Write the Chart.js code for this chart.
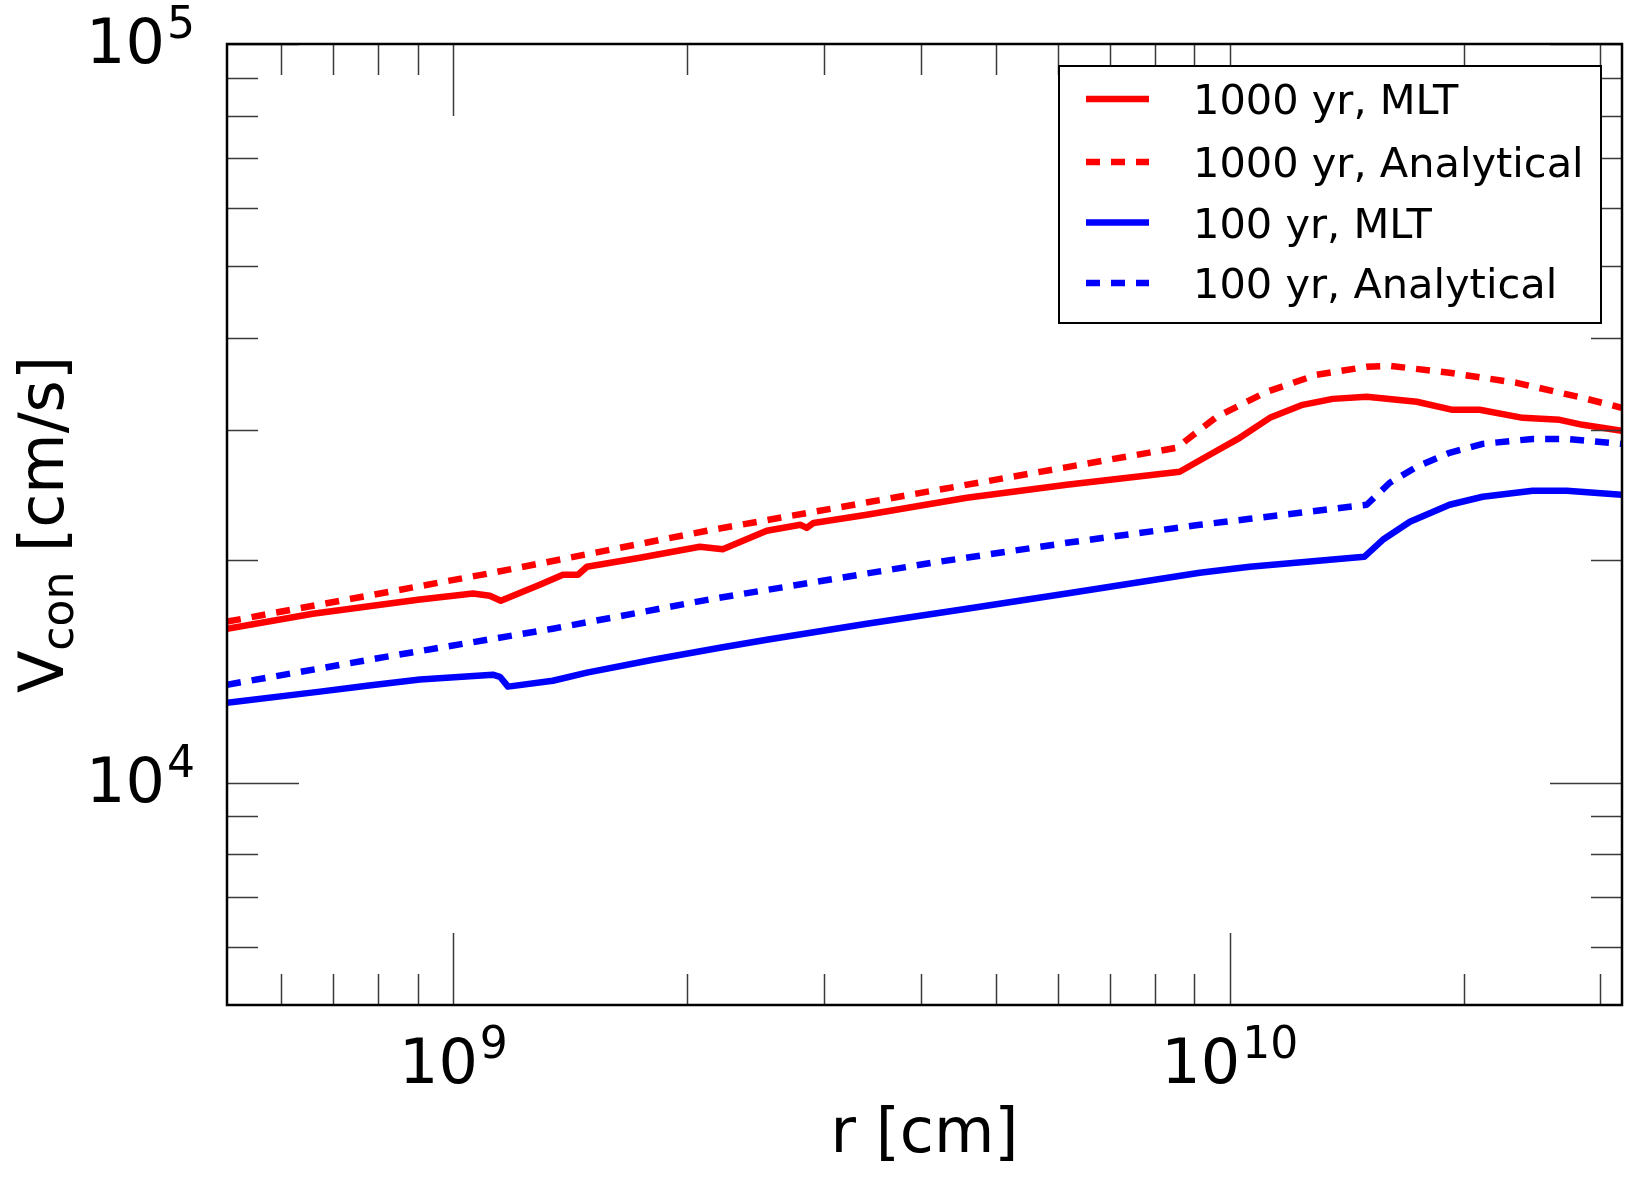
<!DOCTYPE html>
<html>
<head>
<meta charset="utf-8">
<title>Convective velocity profiles</title>
<script src="https://cdn.jsdelivr.net/npm/chart.js@4.4.1/dist/chart.umd.min.js"></script>
<style>
  html, body { margin: 0; padding: 0; background: #fff; }
  canvas { display: block; }
</style>
</head>
<body>
<canvas id="vconChart" width="1638" height="1183"></canvas>
<script>
// ------------------------------------
// DATA
// ------------------------------------
const seriesLabels = ['1000 yr, MLT', '1000 yr, Analytical', '100 yr, MLT', '100 yr, Analytical'];

// 1000 yr, MLT
const r1000Mlt = [5.11e8, 6.59e8, 9.00e8, 1.060e9, 1.114e9, 1.151e9, 1.292e9, 1.384e9, 1.447e9, 1.486e9,
  1.739e9, 2.077e9, 2.223e9, 2.533e9, 2.80e9, 2.852e9, 2.91e9, 3.408e9, 4.585e9, 6.166e9, 8.619e9, 9.42e9, 1.030e10,
  1.126e10, 1.241e10, 1.357e10, 1.501e10, 1.741e10, 1.936e10, 2.098e10, 2.384e10, 2.660e10, 2.847e10, 3.196e10];
const v1000Mlt = [16160, 16930, 17690, 18030, 17910, 17630, 18530, 19120, 19120, 19600,
  20160, 20860, 20700, 21930, 22340, 22120, 22470, 23050, 24300, 25310, 26360, 27790, 29300,
  31180, 32470, 33080, 33290, 32780, 31970, 31970, 31180, 30990, 30510, 29950];

// 1000 yr, Analytical
const r1000Ana = [5.11e8, 1.124e9, 2.121e9, 4.143e9, 8.543e9, 9.618e9, 1.116e10, 1.294e10, 1.501e10, 1.607e10,
  1.919e10, 2.341e10, 2.847e10, 3.196e10];
const v1000Ana = [16520, 19240, 21930, 24840, 28400, 31280, 33820, 35660, 36560, 36670,
  35880, 34780, 33190, 32170];

// 100 yr, MLT
const r100Mlt = [5.11e8, 6.732e8, 7.739e8, 9.055e8, 1.124e9, 1.148e9, 1.176e9, 1.343e9, 1.486e9, 1.807e9,
  2.204e9, 2.533e9, 3.408e9, 4.585e9, 6.166e9, 9.148e9, 1.061e10, 1.49e10, 1.574e10, 1.706e10,
  1.919e10, 2.117e10, 2.455e10, 2.716e10, 3.196e10];
const v100Mlt = [12830, 13280, 13530, 13790, 14000, 13910, 13490, 13740, 14090, 14670,
  15230, 15610, 16410, 17200, 18030, 19240, 19600, 20220, 21320, 22550,
  23780, 24380, 24840, 24840, 24530];

// 100 yr, Analytical
const r100Ana = [5.11e8, 8.211e8, 1.343e9, 2.159e9, 4.143e9, 6.166e9, 9.148e9, 1.061e10, 1.501e10, 1.607e10,
  1.741e10, 1.919e10, 2.117e10, 2.455e10, 2.716e10, 3.196e10];
const v100Ana = [13570, 14810, 16160, 17740, 19850, 21120, 22340, 22760, 23780, 25470,
  26770, 27960, 28750, 29200, 29200, 28750];

// axis ranges and ticks
const xRange = [5.11e8, 3.2e10];
const yRange = [5000, 1e5];
const xMajorTicks = [1e9, 1e10];
const xMinorTicks = [6e8, 7e8, 8e8, 9e8, 2e9, 3e9, 4e9, 5e9, 6e9, 7e9, 8e9, 9e9, 2e10, 3e10];
const yMajorTicks = [1e4, 1e5];
const yMinorTicks = [6e3, 7e3, 8e3, 9e3, 2e4, 3e4, 4e4, 5e4, 6e4, 7e4, 8e4, 9e4];
const xTickLabels = ['9', '10'];
const yTickLabels = ['4', '5'];

const FONT = '"DejaVu Sans", sans-serif';
const RED = '#ff0000';
const BLUE = '#0000ff';
const DASH = [14, 11];
const LINE_W = 6.5;

function toPoints(rs, vs) {
  return rs.map((r, i) => ({ x: r, y: vs[i] }));
}

// draws "10" with a raised exponent; align = 'center' | 'right'
function drawPower(ctx, exp, x, y, align) {
  ctx.font = '62px ' + FONT;
  const wBase = ctx.measureText('10').width;
  ctx.font = '44px ' + FONT;
  const wExp = ctx.measureText(exp).width;
  const total = wBase + wExp + 2;
  const startX = align === 'right' ? x - total : x - total / 2;
  ctx.textAlign = 'left';
  ctx.textBaseline = 'alphabetic';
  ctx.font = '62px ' + FONT;
  ctx.fillText('10', startX, y);
  ctx.font = '44px ' + FONT;
  ctx.fillText(exp, startX + wBase + 2, y - 25);
}

// ------------------------------------
// PLUGIN: FRAME, INWARD TICKS, LABELS, LEGEND
// ------------------------------------
const decorPlugin = {
  id: 'decor',
  afterDraw(chart) {
    const ctx = chart.ctx;
    const { left, right, top, bottom } = chart.chartArea;
    const xs = chart.scales.x;
    const ys = chart.scales.y;
    ctx.save();

    // ticks
    ctx.strokeStyle = '#3a3a3a';
    ctx.lineWidth = 1.5;
    const tick = (x1, y1, x2, y2) => {
      ctx.beginPath();
      ctx.moveTo(x1, y1);
      ctx.lineTo(x2, y2);
      ctx.stroke();
    };
    xMajorTicks.concat(xMinorTicks).forEach(v => {
      const len = xMajorTicks.includes(v) ? 72 : 31;
      const px = Math.round(xs.getPixelForValue(v)) + 0.5;
      tick(px, bottom, px, bottom - len);
      tick(px, top, px, top + len);
    });
    yMajorTicks.concat(yMinorTicks).forEach(v => {
      const len = yMajorTicks.includes(v) ? 72 : 31;
      const py = Math.round(ys.getPixelForValue(v)) + 0.5;
      tick(left, py, left + len, py);
      tick(right, py, right - len, py);
    });

    // frame
    ctx.strokeStyle = '#000';
    ctx.lineWidth = 2.5;
    ctx.strokeRect(left, top, right - left, bottom - top);

    // tick labels
    ctx.fillStyle = '#000';
    xMajorTicks.forEach((v, i) => {
      drawPower(ctx, xTickLabels[i], xs.getPixelForValue(v), bottom + 78, 'center');
    });
    yMajorTicks.forEach((v, i) => {
      drawPower(ctx, yTickLabels[i], left - 32, ys.getPixelForValue(v) + 19, 'right');
    });

    // x axis title
    ctx.font = '62px ' + FONT;
    ctx.textAlign = 'center';
    ctx.textBaseline = 'alphabetic';
    ctx.fillText('r [cm]', (left + right) / 2, 1152);

    // y axis title with subscript
    ctx.save();
    ctx.translate(63, (top + bottom) / 2);
    ctx.rotate(-Math.PI / 2);
    ctx.textAlign = 'left';
    ctx.font = '62px ' + FONT;
    const wV = ctx.measureText('V').width;
    const wRest = ctx.measureText(' [cm/s]').width;
    ctx.font = '44px ' + FONT;
    const wSub = ctx.measureText('con').width;
    let cx = -(wV + wSub + wRest) / 2;
    ctx.font = '62px ' + FONT;
    ctx.fillText('V', cx, 0);
    cx += wV;
    ctx.font = '44px ' + FONT;
    ctx.fillText('con', cx, 10);
    cx += wSub;
    ctx.font = '62px ' + FONT;
    ctx.fillText(' [cm/s]', cx, 0);
    ctx.restore();

    // legend
    const box = { x: 1059, y: 66, w: 542, h: 257 };
    ctx.fillStyle = '#fff';
    ctx.fillRect(box.x, box.y, box.w, box.h);
    ctx.strokeStyle = '#000';
    ctx.lineWidth = 2;
    ctx.strokeRect(box.x, box.y, box.w, box.h);
    const rowY = [99, 162, 222.5, 283];
    chart.data.datasets.forEach((ds, i) => {
      ctx.strokeStyle = ds.borderColor;
      ctx.lineWidth = ds.borderWidth;
      ctx.setLineDash(ds.borderDash || []);
      ctx.beginPath();
      ctx.moveTo(1086, rowY[i]);
      ctx.lineTo(1149, rowY[i]);
      ctx.stroke();
      ctx.setLineDash([]);
      ctx.fillStyle = '#000';
      ctx.font = '41.5px ' + FONT;
      ctx.textAlign = 'left';
      ctx.textBaseline = 'alphabetic';
      ctx.fillText(ds.label, 1193, rowY[i] + 15);
    });

    ctx.restore();
  }
};

// ------------------------------------
// CHART
// ------------------------------------
const ctx = document.getElementById('vconChart').getContext('2d');
new Chart(ctx, {
  type: 'line',
  data: {
    datasets: [
      { label: seriesLabels[0], data: toPoints(r1000Mlt, v1000Mlt), borderColor: RED, borderWidth: LINE_W },
      { label: seriesLabels[1], data: toPoints(r1000Ana, v1000Ana), borderColor: RED, borderWidth: LINE_W, borderDash: DASH },
      { label: seriesLabels[2], data: toPoints(r100Mlt, v100Mlt), borderColor: BLUE, borderWidth: LINE_W },
      { label: seriesLabels[3], data: toPoints(r100Ana, v100Ana), borderColor: BLUE, borderWidth: LINE_W, borderDash: DASH }
    ]
  },
  options: {
    responsive: false,
    animation: false,
    devicePixelRatio: 1,
    layout: { padding: { left: 227, right: 16, top: 44, bottom: 178 } },
    elements: {
      point: { radius: 0 },
      line: { tension: 0, fill: false, borderCapStyle: 'butt', borderJoinStyle: 'round' }
    },
    plugins: {
      legend: { display: false },
      tooltip: { enabled: false }
    },
    scales: {
      x: { type: 'logarithmic', display: false, min: xRange[0], max: xRange[1] },
      y: { type: 'logarithmic', display: false, min: yRange[0], max: yRange[1] }
    }
  },
  plugins: [decorPlugin]
});
</script>
</body>
</html>
